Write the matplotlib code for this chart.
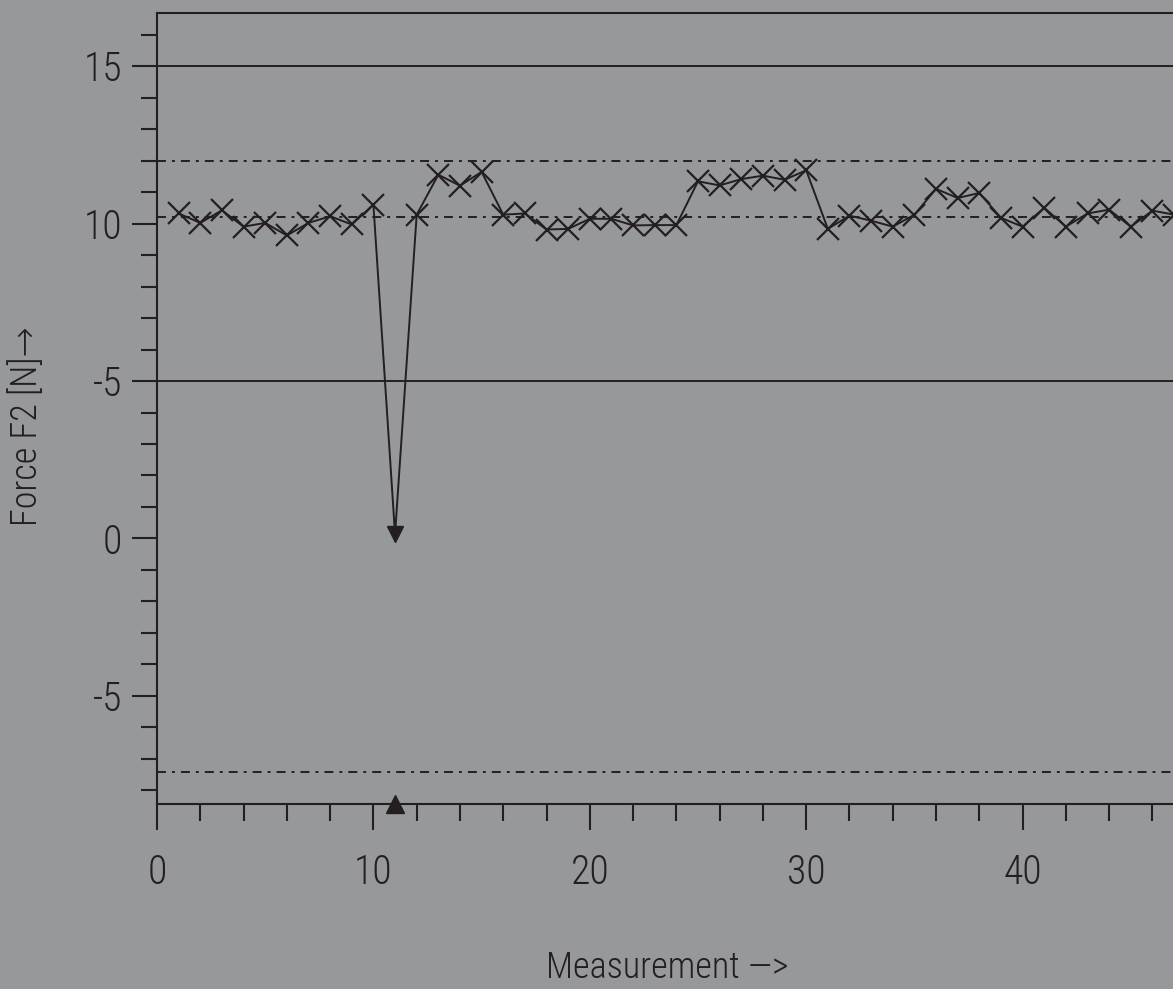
import numpy as np
import matplotlib
matplotlib.use("Agg")
import matplotlib.pyplot as plt
from matplotlib import font_manager
from matplotlib.ticker import MultipleLocator

# --- data ---
measurement = list(range(1, 48))
force = [10.32, 10.02, 10.42, 9.90, 10.02, 9.62, 10.02, 10.23, 9.97, 10.60,
         0.13, 10.28, 11.55, 11.20, 11.64, 10.28, 10.32, 9.81, 9.83, 10.15,
         10.15, 9.94, 9.95, 9.95, 11.34, 11.21, 11.41, 11.52, 11.39, 11.69,
         9.83, 10.25, 10.09, 9.90, 10.28, 11.10, 10.81, 10.97, 10.18, 9.90,
         10.50, 9.90, 10.32, 10.44, 9.90, 10.41, 10.28]
outlier_idx = 10                     # measurement 11, off the scale
solid_levels = [15, 5]
dashdot_levels = [12.0, 10.22, -7.41]
ytick_vals = [15, 10, 5, 0, -5]
ytick_labels = ["15", "10", "-5", "0", "-5"]
xtick_vals = [0, 10, 20, 30, 40]

BG = "#97989c"
INK = "#231f20"

# pick the narrowest family we have (original uses a light condensed face)
have = {f.name for f in font_manager.fontManager.ttflist}
family = 'DejaVu Sans'
for cand in ['Roboto Condensed', 'Liberation Sans Narrow', 'DejaVu Sans Condensed',
             'Noto Sans Condensed', 'Roboto']:
    if cand in have:
        family = cand
        break
plt.rcParams['font.family'] = [family, 'DejaVu Sans']
plt.rcParams['font.weight'] = 'light'

fig = plt.figure(figsize=(11.73, 9.89), dpi=100, facecolor=BG)
# axes runs past the right edge of the figure, like the cropped original
ax = fig.add_axes([157 / 1173, 185 / 989, 50 * 21.64 / 1173, (804 - 12.5) / 989])
ax.set_facecolor(BG)
ax.set_xlim(0, 50)
ax.set_ylim(-8.43, 16.70)

for y in solid_levels:
    ax.axhline(y, color=INK, lw=1.4, zorder=2)
for y in dashdot_levels:
    ax.axhline(y, color=INK, lw=1.4, linestyle=(0, (4.6, 3.1, 1.5, 3.1)), zorder=2)

x = np.array(measurement)
f = np.array(force)
ax.plot(x, f, color=INK, lw=1.4, zorder=3)
keep = np.arange(len(x)) != outlier_idx
ax.plot(x[keep], f[keep], linestyle='none', marker='x', ms=15.5, mew=1.6,
        color=INK, zorder=4)
ax.plot(x[outlier_idx], f[outlier_idx], linestyle='none', marker='v', ms=11.5,
        color=INK, zorder=4)
# flag on the x axis under the outlier
ax.plot(x[outlier_idx], ax.get_ylim()[0], linestyle='none', marker='^', ms=13.5,
        color=INK, clip_on=False, zorder=5)

for side in ['left', 'top', 'bottom']:
    ax.spines[side].set_color(INK)
    ax.spines[side].set_linewidth(1.5)
ax.spines['right'].set_visible(False)

ax.set_yticks(ytick_vals)
ax.set_yticklabels(ytick_labels)
ax.yaxis.set_minor_locator(MultipleLocator(1))
ax.set_xticks(xtick_vals)
ax.xaxis.set_minor_locator(MultipleLocator(2))
ax.tick_params(which='both', direction='out', color=INK, width=1.5,
               top=False, right=False, labelcolor=INK, labelsize=28.5)
ax.tick_params(axis='y', which='major', length=18, pad=7)
ax.tick_params(axis='y', which='minor', length=11.5)
ax.tick_params(axis='x', which='major', length=18.5, pad=17)
ax.tick_params(axis='x', which='minor', length=12)

fig.text(27 / 1173, 1 - 426 / 989, "Force F2 [N]\u2192", rotation=90,
         ha='center', va='center', fontsize=26, color=INK)
fig.text(667 / 1173, 1 - 978 / 989, "Measurement \u2014>", ha='center',
         va='baseline', fontsize=26, color=INK)

fig.savefig("out.png", dpi=100, facecolor=BG)
